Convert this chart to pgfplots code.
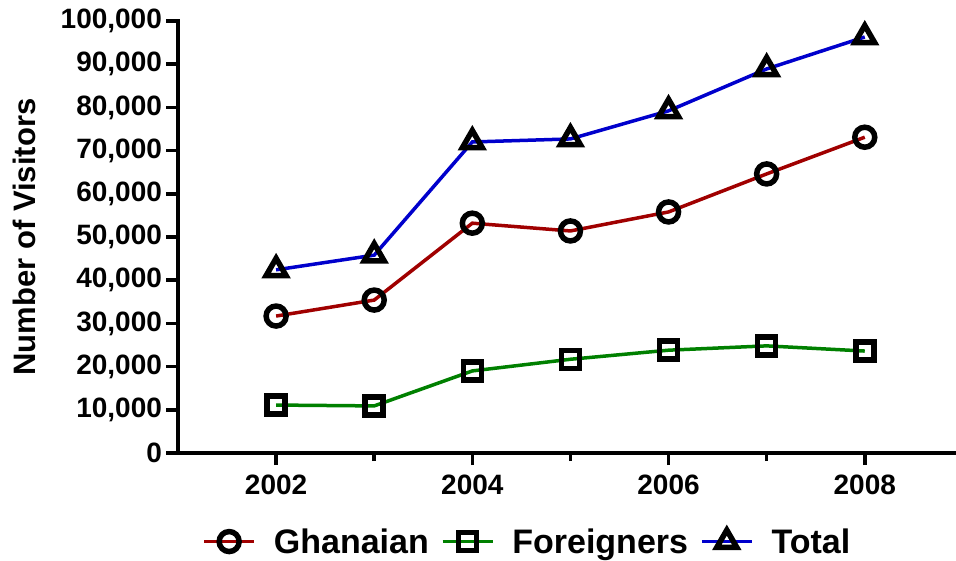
\documentclass[border=0pt]{standalone}
\usepackage{fontspec}
\setmainfont{Liberation Sans}
\usepackage{pgfplots}
\pgfplotsset{compat=1.18}
\definecolor{cRed}{HTML}{A00000}
\definecolor{cGreen}{HTML}{008000}
\definecolor{cBlue}{HTML}{0000CC}
\begin{document}
\begin{tikzpicture}
\begin{axis}[
  scale only axis, width=778pt, height=432pt,
  xmin=2001, xmax=2008.93, ymin=0, ymax=100000,
  axis lines*=left,
  axis line style={line width=4pt, black, line cap=rect},
  xtick={2002,2004,2006,2008}, xticklabels={2002,2004,2006,2008},
  minor xtick={2003,2005,2007},
  ytick={0,10000,...,100000},
  scaled y ticks=false,
  tick align=outside, major tick length=12pt, minor tick length=8pt,
  every tick/.style={line width=3.5pt, black},
  xticklabel style={font=\fontsize{28}{28}\selectfont\bfseries, inner sep=0pt, anchor=north, yshift=-10pt},
  yticklabel style={/pgf/number format/fixed, /pgf/number format/1000 sep={,}, /pgf/number format/assume math mode=true,
    font=\fontsize{28}{28}\selectfont\bfseries, inner sep=0pt, anchor=east, xshift=-4pt},
  ylabel={Number of Visitors},
  every axis y label/.style={at={(axis description cs:-0.198,0.5)}, rotate=90, anchor=center, font=\fontsize{31}{31}\selectfont\bfseries},
  legend style={draw=none, fill=none, at={(axis description cs:0.449,-0.205)}, anchor=center,
    font=\fontsize{34}{34}\selectfont\bfseries,
    /tikz/every odd column/.append style={column sep=16pt},
    /tikz/every even column/.append style={column sep=10pt}},
  legend columns=3,
  legend image code/.code={\draw[mark repeat=2,mark phase=2] plot coordinates {(0pt,0pt)(25pt,0pt)(50pt,0pt)};},
]
\addplot[cRed, line width=3.5pt, mark=o, mark size=10pt, mark options={black, line width=5.5pt, solid, fill=none}]
  coordinates {(2002,31700)(2003,35400)(2004,53200)(2005,51400)(2006,55800)(2007,64600)(2008,73100)};
\addlegendentry{Ghanaian}
\addplot[cGreen, line width=3.5pt, mark=square, mark size=9pt, mark options={black, line width=5.5pt, solid, fill=none}]
  coordinates {(2002,11100)(2003,10900)(2004,19000)(2005,21700)(2006,23800)(2007,24800)(2008,23600)};
\addlegendentry{Foreigners}
\addplot[cBlue, line width=3.5pt, mark=triangle, mark size=11.5pt, mark options={black, line width=5.5pt, solid, fill=none}]
  coordinates {(2002,42400)(2003,45800)(2004,72000)(2005,72700)(2006,79200)(2007,88900)(2008,96300)};
\addlegendentry{Total}
\end{axis}
\pgfresetboundingbox
\path ([shift={(-178pt,-107pt)}]current axis.south west) rectangle ([shift={(0pt,21pt)}]current axis.north east);
\end{tikzpicture}
\end{document}
